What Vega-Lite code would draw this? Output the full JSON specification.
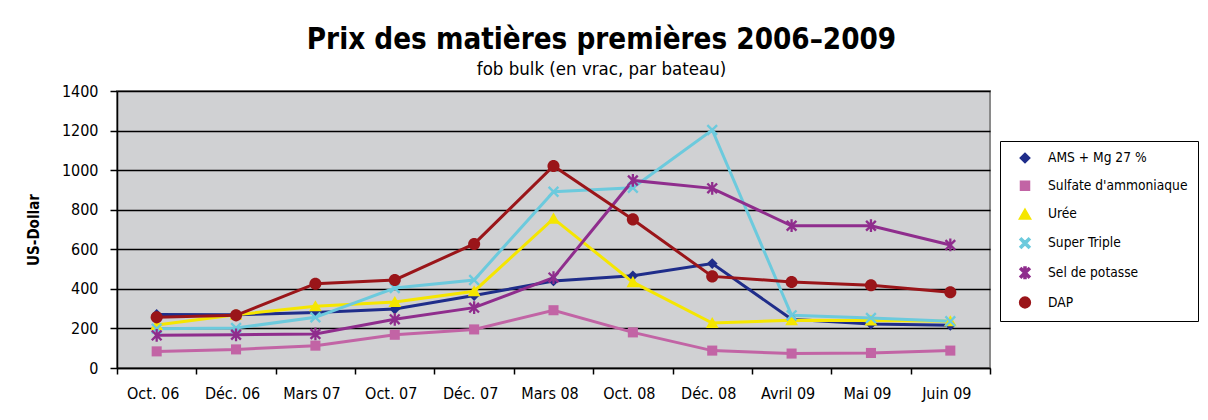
{
  "$schema": "https://vega.github.io/schema/vega-lite/v6.json",
  "autosize": {"type": "none"},
  "width": 873,
  "height": 277,
  "padding": {"left": 117, "top": 91, "right": 218, "bottom": 52},
  "background": "#ffffff",
  "title": {
    "text": "Prix des matières premières 2006–2009",
    "subtitle": "fob bulk (en vrac, par bateau)",
    "anchor": "middle",
    "dx": 48,
    "offset": 5,
    "font": "DejaVu Sans Condensed",
    "fontSize": 29.3,
    "fontWeight": "bold",
    "color": "#000000",
    "subtitleFont": "DejaVu Sans Condensed",
    "subtitleFontSize": 18.5,
    "subtitleColor": "#000000",
    "subtitlePadding": 4
  },
  "config": {
    "view": {"fill": "#d0d1d3", "stroke": "#8a8a8a", "strokeWidth": 2},
    "axis": {
      "labelFont": "DejaVu Sans Condensed",
      "labelFontSize": 16,
      "labelColor": "#000000",
      "titleFont": "DejaVu Sans Condensed",
      "domainColor": "#000000",
      "domainWidth": 1.5,
      "tickColor": "#000000",
      "tickWidth": 1.5
    },
    "legend": {
      "labelFont": "DejaVu Sans Condensed",
      "labelFontSize": 13.7,
      "labelColor": "#000000"
    }
  },
  "data": {
    "values": [
      {"date": "Oct. 06", "serie": "AMS + Mg 27 %", "prix": 271},
      {"date": "Déc. 06", "serie": "AMS + Mg 27 %", "prix": 269},
      {"date": "Mars 07", "serie": "AMS + Mg 27 %", "prix": 281},
      {"date": "Oct. 07", "serie": "AMS + Mg 27 %", "prix": 298},
      {"date": "Déc. 07", "serie": "AMS + Mg 27 %", "prix": 366},
      {"date": "Mars 08", "serie": "AMS + Mg 27 %", "prix": 440},
      {"date": "Oct. 08", "serie": "AMS + Mg 27 %", "prix": 466},
      {"date": "Déc. 08", "serie": "AMS + Mg 27 %", "prix": 528},
      {"date": "Avril 09", "serie": "AMS + Mg 27 %", "prix": 246},
      {"date": "Mai 09", "serie": "AMS + Mg 27 %", "prix": 222},
      {"date": "Juin 09", "serie": "AMS + Mg 27 %", "prix": 216},
      {"date": "Oct. 06", "serie": "Sulfate d'ammoniaque", "prix": 84},
      {"date": "Déc. 06", "serie": "Sulfate d'ammoniaque", "prix": 94},
      {"date": "Mars 07", "serie": "Sulfate d'ammoniaque", "prix": 113},
      {"date": "Oct. 07", "serie": "Sulfate d'ammoniaque", "prix": 168},
      {"date": "Déc. 07", "serie": "Sulfate d'ammoniaque", "prix": 195},
      {"date": "Mars 08", "serie": "Sulfate d'ammoniaque", "prix": 292},
      {"date": "Oct. 08", "serie": "Sulfate d'ammoniaque", "prix": 180},
      {"date": "Déc. 08", "serie": "Sulfate d'ammoniaque", "prix": 88},
      {"date": "Avril 09", "serie": "Sulfate d'ammoniaque", "prix": 73},
      {"date": "Mai 09", "serie": "Sulfate d'ammoniaque", "prix": 76},
      {"date": "Juin 09", "serie": "Sulfate d'ammoniaque", "prix": 88},
      {"date": "Oct. 06", "serie": "Urée", "prix": 217},
      {"date": "Déc. 06", "serie": "Urée", "prix": 269},
      {"date": "Mars 07", "serie": "Urée", "prix": 312},
      {"date": "Oct. 07", "serie": "Urée", "prix": 334},
      {"date": "Déc. 07", "serie": "Urée", "prix": 388},
      {"date": "Mars 08", "serie": "Urée", "prix": 755},
      {"date": "Oct. 08", "serie": "Urée", "prix": 434},
      {"date": "Déc. 08", "serie": "Urée", "prix": 227},
      {"date": "Avril 09", "serie": "Urée", "prix": 241},
      {"date": "Mai 09", "serie": "Urée", "prix": 240},
      {"date": "Juin 09", "serie": "Urée", "prix": 236},
      {"date": "Oct. 06", "serie": "Super Triple", "prix": 199},
      {"date": "Déc. 06", "serie": "Super Triple", "prix": 202},
      {"date": "Mars 07", "serie": "Super Triple", "prix": 256},
      {"date": "Oct. 07", "serie": "Super Triple", "prix": 404},
      {"date": "Déc. 07", "serie": "Super Triple", "prix": 445},
      {"date": "Mars 08", "serie": "Super Triple", "prix": 891},
      {"date": "Oct. 08", "serie": "Super Triple", "prix": 911},
      {"date": "Déc. 08", "serie": "Super Triple", "prix": 1203},
      {"date": "Avril 09", "serie": "Super Triple", "prix": 266},
      {"date": "Mai 09", "serie": "Super Triple", "prix": 253},
      {"date": "Juin 09", "serie": "Super Triple", "prix": 236},
      {"date": "Oct. 06", "serie": "Sel de potasse", "prix": 165},
      {"date": "Déc. 06", "serie": "Sel de potasse", "prix": 168},
      {"date": "Mars 07", "serie": "Sel de potasse", "prix": 172},
      {"date": "Oct. 07", "serie": "Sel de potasse", "prix": 246},
      {"date": "Déc. 07", "serie": "Sel de potasse", "prix": 305},
      {"date": "Mars 08", "serie": "Sel de potasse", "prix": 457},
      {"date": "Oct. 08", "serie": "Sel de potasse", "prix": 948},
      {"date": "Déc. 08", "serie": "Sel de potasse", "prix": 908},
      {"date": "Avril 09", "serie": "Sel de potasse", "prix": 719},
      {"date": "Mai 09", "serie": "Sel de potasse", "prix": 719},
      {"date": "Juin 09", "serie": "Sel de potasse", "prix": 622},
      {"date": "Oct. 06", "serie": "DAP", "prix": 256},
      {"date": "Déc. 06", "serie": "DAP", "prix": 266},
      {"date": "Mars 07", "serie": "DAP", "prix": 426},
      {"date": "Oct. 07", "serie": "DAP", "prix": 445},
      {"date": "Déc. 07", "serie": "DAP", "prix": 627},
      {"date": "Mars 08", "serie": "DAP", "prix": 1021},
      {"date": "Oct. 08", "serie": "DAP", "prix": 751},
      {"date": "Déc. 08", "serie": "DAP", "prix": 463},
      {"date": "Avril 09", "serie": "DAP", "prix": 435},
      {"date": "Mai 09", "serie": "DAP", "prix": 418},
      {"date": "Juin 09", "serie": "DAP", "prix": 383}
    ]
  },
  "encoding": {
    "x": {
      "field": "date",
      "type": "nominal",
      "sort": ["Oct. 06", "Déc. 06", "Mars 07", "Oct. 07", "Déc. 07", "Mars 08", "Oct. 08", "Déc. 08", "Avril 09", "Mai 09", "Juin 09"],
      "scale": {"type": "band", "paddingInner": 0, "paddingOuter": 0},
      "axis": {
        "title": null,
        "tickBand": "extent",
        "labelAngle": 0,
        "labelOffset": -4,
        "tickSize": 6,
        "labelPadding": 11,
        "grid": false
      }
    },
    "y": {
      "field": "prix",
      "type": "quantitative",
      "scale": {"domain": [0, 1400], "nice": false},
      "axis": {
        "title": "US-Dollar",
        "format": "d",
        "titleFontSize": 15,
        "titleFontWeight": "bold",
        "titleColor": "#000000",
        "titlePadding": 20,
        "values": [0, 200, 400, 600, 800, 1000, 1200, 1400],
        "tickSize": 7,
        "labelPadding": 12,
        "grid": true,
        "gridColor": "#000000",
        "gridWidth": 1.5,
        "gridOpacity": 1
      }
    }
  },
  "layer": [
    {
      "mark": {"type": "line", "strokeWidth": 3},
      "encoding": {
        "color": {
          "field": "serie",
          "type": "nominal",
          "scale": {
            "domain": ["AMS + Mg 27 %", "Sulfate d'ammoniaque", "Urée", "Super Triple", "Sel de potasse", "DAP"],
            "range": ["#1f2d8a", "#c264a5", "#f5e600", "#6ccadd", "#8f2d8d", "#9a1519"]
          }
        }
      }
    },
    {
      "mark": {"type": "point", "filled": true, "size": 180, "opacity": 1, "strokeWidth": 0},
      "encoding": {
        "color": {
          "field": "serie",
          "type": "nominal",
          "scale": {
            "domain": ["AMS + Mg 27 %", "Sulfate d'ammoniaque", "Urée", "Super Triple", "Sel de potasse", "DAP"],
            "range": ["#1f2d8a", "#c264a5", "#f5e600", "#6ccadd", "#8f2d8d", "#9a1519"]
          },
          "legend": {
            "title": null,
            "orient": "none",
            "legendX": 883,
            "legendY": 50,
            "fillColor": "#ffffff",
            "strokeColor": "#000000",
            "padding": 10,
            "rowPadding": 11.7,
            "symbolSize": 144,
            "symbolOffset": 8,
            "labelOffset": 16
          }
        },
        "shape": {
          "field": "serie",
          "type": "nominal",
          "scale": {
            "domain": ["AMS + Mg 27 %", "Sulfate d'ammoniaque", "Urée", "Super Triple", "Sel de potasse", "DAP"],
            "range": [
              "M0,-0.8L0.8,0L0,0.8L-0.8,0Z",
              "M-0.75,-0.75L0.75,-0.75L0.75,0.75L-0.75,0.75Z",
              "M0,-0.9L0.95,0.75L-0.95,0.75Z",
              "M-0.85,-0.6L-0.6,-0.85L0,-0.25L0.6,-0.85L0.85,-0.6L0.25,0L0.85,0.6L0.6,0.85L0,0.25L-0.6,0.85L-0.85,0.6L-0.25,0Z",
              "M-0.85,-0.6L-0.6,-0.85L0,-0.25L0.6,-0.85L0.85,-0.6L0.25,0L0.85,0.6L0.6,0.85L0,0.25L-0.6,0.85L-0.85,0.6L-0.25,0Z M-0.17,-0.95L0.17,-0.95L0.17,0.95L-0.17,0.95Z",
              "M-0.9,0A0.9,0.9,0,1,1,0.9,0A0.9,0.9,0,1,1,-0.9,0Z"
            ]
          },
          "legend": {
            "title": null,
            "orient": "none",
            "legendX": 883,
            "legendY": 50,
            "fillColor": "#ffffff",
            "strokeColor": "#000000",
            "padding": 10,
            "rowPadding": 11.7,
            "symbolSize": 144,
            "symbolOffset": 8,
            "labelOffset": 16
          }
        }
      }
    }
  ]
}
